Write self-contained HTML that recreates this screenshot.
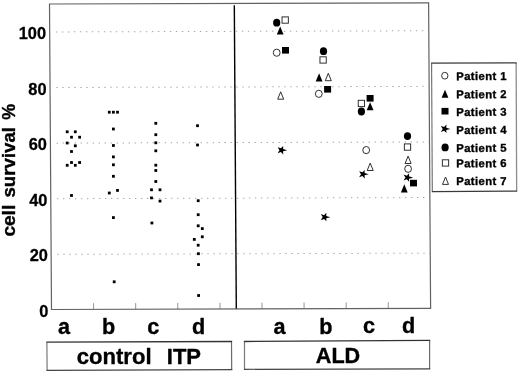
<!DOCTYPE html>
<html lang="en">
<head>
<meta charset="utf-8">
<title>cell survival</title>
<style>
html,body{margin:0;padding:0;background:#fff;}
body{width:520px;height:373px;overflow:hidden;}
svg{display:block;}
text{font-family:"Liberation Sans",sans-serif;font-weight:bold;fill:#000;}
.b{stroke:#000;stroke-width:0.35;stroke-linejoin:round;}
.b2{stroke:#000;stroke-width:0.2;stroke-linejoin:round;}
.b3{stroke:#000;stroke-width:0.28;stroke-linejoin:round;}
.fr{stroke:#626262;stroke-width:1.2;fill:none;}
.bx{stroke:#3c3c3c;stroke-width:1.1;fill:#fff;}
.gd{stroke:#a6a6a6;stroke-width:1;stroke-dasharray:1.4 4.6;fill:none;}
.tk{stroke:#8a8a8a;stroke-width:0.9;}
.dv{stroke:#000;stroke-width:1.4;}
.o{fill:#fff;stroke:#262626;stroke-width:0.95;}
.s{fill:#000;stroke:none;}
</style>
</head>
<body>
<svg width="520" height="373" viewBox="0 0 520 373">
<rect x="0" y="0" width="520" height="373" fill="#fff"/>
<g transform="matrix(1,-0.00317,0.00655,1,49.5,4)">
<line class="gd" x1="6.2" y1="250.35" x2="378.5" y2="250.35"/>
<line class="gd" x1="6.2" y1="194.75" x2="378.5" y2="194.75"/>
<line class="gd" x1="6.2" y1="139.15" x2="378.5" y2="139.15"/>
<line class="gd" x1="6.2" y1="83.55" x2="378.5" y2="83.55"/>
<line class="gd" x1="6.2" y1="27.95" x2="378.5" y2="27.95"/>
<line class="tk" x1="42.1" y1="299.3" x2="42.1" y2="305.5"/>
<line class="tk" x1="84.2" y1="299.3" x2="84.2" y2="305.5"/>
<line class="tk" x1="126.3" y1="299.3" x2="126.3" y2="305.5"/>
<line class="tk" x1="168.5" y1="299.3" x2="168.5" y2="305.5"/>
<line class="tk" x1="210.5" y1="299.3" x2="210.5" y2="305.5"/>
<line class="tk" x1="252.6" y1="299.3" x2="252.6" y2="305.5"/>
<line class="tk" x1="294.7" y1="299.3" x2="294.7" y2="305.5"/>
<line class="tk" x1="336.8" y1="299.3" x2="336.8" y2="305.5"/>
<line class="dv" x1="184.8" y1="1.8" x2="184.8" y2="305.5"/>
<rect class="fr" x="0" y="0" width="379.1" height="305.5"/>
</g>
<g class="s">
<rect x="65.8" y="130.4" width="2.8" height="2.8"/>
<rect x="73.9" y="130.4" width="2.8" height="2.8"/>
<rect x="70.1" y="135.8" width="2.8" height="2.8"/>
<rect x="78.2" y="135.8" width="2.8" height="2.8"/>
<rect x="65.8" y="141.6" width="2.8" height="2.8"/>
<rect x="73.9" y="144.4" width="2.8" height="2.8"/>
<rect x="70.1" y="150.1" width="2.8" height="2.8"/>
<rect x="70.1" y="161.1" width="2.8" height="2.8"/>
<rect x="78.2" y="161.1" width="2.8" height="2.8"/>
<rect x="65.8" y="163.9" width="2.8" height="2.8"/>
<rect x="73.9" y="163.9" width="2.8" height="2.8"/>
<rect x="70.1" y="194.1" width="2.8" height="2.8"/>
<rect x="107.9" y="110.8" width="2.8" height="2.8"/>
<rect x="112" y="110.8" width="2.8" height="2.8"/>
<rect x="116.1" y="110.8" width="2.8" height="2.8"/>
<rect x="112" y="127.6" width="2.8" height="2.8"/>
<rect x="112" y="144.1" width="2.8" height="2.8"/>
<rect x="112" y="155.5" width="2.8" height="2.8"/>
<rect x="112" y="163.4" width="2.8" height="2.8"/>
<rect x="112" y="174.9" width="2.8" height="2.8"/>
<rect x="116.1" y="189" width="2.8" height="2.8"/>
<rect x="107.9" y="191.6" width="2.8" height="2.8"/>
<rect x="112" y="216.2" width="2.8" height="2.8"/>
<rect x="112.8" y="280.4" width="2.8" height="2.8"/>
<rect x="154.4" y="121.9" width="2.8" height="2.8"/>
<rect x="154.4" y="133.3" width="2.8" height="2.8"/>
<rect x="154.4" y="141.4" width="2.8" height="2.8"/>
<rect x="154.4" y="149.4" width="2.8" height="2.8"/>
<rect x="154.4" y="163.8" width="2.8" height="2.8"/>
<rect x="154.4" y="169.1" width="2.8" height="2.8"/>
<rect x="154.4" y="180.1" width="2.8" height="2.8"/>
<rect x="150.1" y="188.4" width="2.8" height="2.8"/>
<rect x="158.6" y="188.4" width="2.8" height="2.8"/>
<rect x="150.1" y="196.5" width="2.8" height="2.8"/>
<rect x="158.6" y="199.7" width="2.8" height="2.8"/>
<rect x="150.5" y="221.6" width="2.8" height="2.8"/>
<rect x="196.1" y="124.3" width="2.8" height="2.8"/>
<rect x="196.1" y="143.6" width="2.8" height="2.8"/>
<rect x="196.8" y="199.3" width="2.8" height="2.8"/>
<rect x="196.8" y="213.3" width="2.8" height="2.8"/>
<rect x="196.8" y="224.4" width="2.8" height="2.8"/>
<rect x="200.9" y="227.2" width="2.8" height="2.8"/>
<rect x="200.9" y="235.4" width="2.8" height="2.8"/>
<rect x="192.9" y="238" width="2.8" height="2.8"/>
<rect x="196.8" y="243.8" width="2.8" height="2.8"/>
<rect x="197" y="252.3" width="2.8" height="2.8"/>
<rect x="197.1" y="263.2" width="2.8" height="2.8"/>
<rect x="197.2" y="294.1" width="2.8" height="2.8"/>
</g>
<ellipse class="s" cx="276.7" cy="22.7" rx="3.6" ry="3.9"/>
<rect class="o" x="282.05" y="16.9" width="6.3" height="6.3"/>
<polygon class="s" points="280.2,26.5 283.6,34.6 276.8,34.6"/>
<ellipse class="o" cx="276.7" cy="52.7" rx="3.4" ry="3.6"/>
<rect class="s" x="282" y="47" width="7" height="6.6"/>
<polygon class="o" points="280.7,91.8 283.7,99.2 277.7,99.2"/>
<polygon class="s" points="287.2,150.35 283.08,149.05 283.25,145.9 280.9,148.35 277.6,147.2 279.55,150.2 277.6,153.3 280.9,152.05 283.25,154.4 283.08,151.35"/>
<ellipse class="s" cx="323.5" cy="51.2" rx="3.6" ry="3.9"/>
<rect class="o" x="319.95" y="56.8" width="6.3" height="6.3"/>
<polygon class="s" points="319.1,73.3 322.5,81.4 315.7,81.4"/>
<polygon class="o" points="328.3,73.3 331.3,80.7 325.3,80.7"/>
<rect class="s" x="324.1" y="86" width="7" height="6.6"/>
<ellipse class="o" cx="318.8" cy="93.8" rx="3.4" ry="3.6"/>
<polygon class="s" points="330.35,217.25 326.23,215.95 326.4,212.8 324.05,215.25 320.75,214.1 322.7,217.1 320.75,220.2 324.05,218.95 326.4,221.3 326.23,218.25"/>
<rect class="s" x="366.6" y="95" width="7" height="6.6"/>
<rect class="o" x="358.25" y="100.3" width="6.3" height="6.3"/>
<polygon class="s" points="370.1,102.2 373.5,110.3 366.7,110.3"/>
<ellipse class="s" cx="361.4" cy="111.5" rx="3.6" ry="3.9"/>
<ellipse class="o" cx="366.2" cy="150.1" rx="3.4" ry="3.6"/>
<polygon class="o" points="370.2,163.1 373.2,170.5 367.2,170.5"/>
<polygon class="s" points="368.7,174.35 364.58,173.05 364.75,169.9 362.4,172.35 359.1,171.2 361.05,174.2 359.1,177.3 362.4,176.05 364.75,178.4 364.58,175.35"/>
<ellipse class="s" cx="407.5" cy="136.1" rx="3.6" ry="3.9"/>
<rect class="o" x="404.35" y="143.9" width="6.3" height="6.3"/>
<polygon class="o" points="408.1,156.1 411.1,163.5 405.1,163.5"/>
<ellipse class="o" cx="408.1" cy="168.8" rx="3.4" ry="3.6"/>
<polygon class="s" points="413.1,177.65 408.98,176.35 409.15,173.2 406.8,175.65 403.5,174.5 405.45,177.5 403.5,180.6 406.8,179.35 409.15,181.7 408.98,178.65"/>
<rect class="s" x="410" y="179.8" width="7" height="6.6"/>
<polygon class="s" points="404.3,184.3 407.7,192.4 400.9,192.4"/>
<polygon points="431.6,63.15 516.15,62.9 516.65,191.05 432.3,191.6" fill="#fff"/>
<line x1="431.6" y1="63.15" x2="432.3" y2="191.6" stroke="#6a6a6a" stroke-width="1.1"/>
<line x1="516.15" y1="62.9" x2="516.65" y2="191.05" stroke="#8c8c8c" stroke-width="1.3"/>
<line x1="431.1" y1="63.15" x2="516.7" y2="62.9" stroke="#3a3a3a" stroke-width="1.3"/>
<line x1="431.8" y1="191.6" x2="517.2" y2="191.05" stroke="#3a3a3a" stroke-width="1.3"/>
<ellipse class="o" cx="444.8" cy="75.7" rx="3.15" ry="3.4"/>
<text class="b" x="456.2" y="80.15" font-size="11.3" letter-spacing="0.42" transform="rotate(-0.25 456 80.15)">Patient 1</text>
<polygon class="s" points="445,89.7 448.4,97.8 441.6,97.8"/>
<text class="b" x="456.2" y="98.3" font-size="11.3" letter-spacing="0.42" transform="rotate(-0.25 456 98.3)">Patient 2</text>
<rect class="s" x="441.5" y="107.9" width="7" height="6.6"/>
<text class="b" x="456.2" y="116" font-size="11.3" letter-spacing="0.42" transform="rotate(-0.25 456 116)">Patient 3</text>
<polygon class="s" points="450.4,129.05 446.28,127.75 446.45,124.6 444.1,127.05 440.8,125.9 442.75,128.9 440.8,132 444.1,130.75 446.45,133.1 446.28,130.05"/>
<text class="b" x="456.2" y="134" font-size="11.3" letter-spacing="0.42" transform="rotate(-0.25 456 134)">Patient 4</text>
<ellipse class="s" cx="445.1" cy="147.4" rx="3.6" ry="3.9"/>
<text class="b" x="456.2" y="152" font-size="11.3" letter-spacing="0.42" transform="rotate(-0.25 456 152)">Patient 5</text>
<rect class="o" x="442.35" y="159.8" width="6.3" height="6.3"/>
<text class="b" x="456.2" y="167.3" font-size="11.3" letter-spacing="0.42" transform="rotate(-0.25 456 167.3)">Patient 6</text>
<polygon class="o" points="445.5,177 448.5,184.4 442.5,184.4"/>
<text class="b" x="456.2" y="185.1" font-size="11.3" letter-spacing="0.42" transform="rotate(-0.25 456 185.1)">Patient 7</text>
<text class="b3" x="46.05" y="38.7" font-size="16.4" text-anchor="end">100</text>
<text class="b3" x="46.51" y="94.6" font-size="16.4" text-anchor="end">80</text>
<text class="b3" x="46.98" y="150.2" font-size="16.4" text-anchor="end">60</text>
<text class="b3" x="47.44" y="205.7" font-size="16.4" text-anchor="end">40</text>
<text class="b3" x="47.9" y="261.2" font-size="16.4" text-anchor="end">20</text>
<text class="b3" x="48.36" y="316.9" font-size="16.4" text-anchor="end">0</text>
<text class="b" x="0" y="0" font-size="17.6" textLength="31.8" lengthAdjust="spacingAndGlyphs" transform="translate(15.45 236.6) rotate(-90)">cell</text>
<text class="b" x="0" y="0" font-size="17.6" textLength="70.5" lengthAdjust="spacingAndGlyphs" transform="translate(15.45 197.5) rotate(-90)">survival</text>
<text class="b" x="0" y="0" font-size="17.6" textLength="15.9" lengthAdjust="spacingAndGlyphs" transform="translate(15.45 119.7) rotate(-90)">%</text>
<text class="b" x="64" y="334.3" font-size="21.6" text-anchor="middle">a</text>
<text class="b" x="108.5" y="334.3" font-size="21.6" text-anchor="middle">b</text>
<text class="b" x="153.25" y="334.2" font-size="21.6" text-anchor="middle">c</text>
<text class="b" x="198.6" y="334.2" font-size="21.6" text-anchor="middle">d</text>
<text class="b" x="279.4" y="333.8" font-size="21.6" text-anchor="middle">a</text>
<text class="b" x="325.9" y="333.8" font-size="21.6" text-anchor="middle">b</text>
<text class="b" x="369.1" y="333.2" font-size="21.6" text-anchor="middle">c</text>
<text class="b" x="408.5" y="333.2" font-size="21.6" text-anchor="middle">d</text>
<polygon points="46.9,342.15 231.5,341.5 231.7,369.6 47.1,370.4" fill="#fff"/>
<line x1="46.9" y1="342.15" x2="47.1" y2="370.4" stroke="#7a7a7a" stroke-width="1.2"/>
<line x1="231.5" y1="341.5" x2="231.7" y2="369.6" stroke="#6a6a6a" stroke-width="1.2"/>
<line x1="46.3" y1="342.15" x2="232.1" y2="341.5" stroke="#333" stroke-width="1.3"/>
<line x1="46.5" y1="370.4" x2="232.3" y2="369.6" stroke="#444" stroke-width="1.2"/>
<polygon points="244.5,341.5 429.6,340.3 429.6,368.9 244.5,369.3" fill="#fff"/>
<line x1="244.5" y1="341.5" x2="244.5" y2="369.3" stroke="#7a7a7a" stroke-width="1.2"/>
<line x1="429.6" y1="340.3" x2="429.6" y2="368.9" stroke="#6a6a6a" stroke-width="1.2"/>
<line x1="243.9" y1="341.5" x2="430.2" y2="340.3" stroke="#333" stroke-width="1.3"/>
<line x1="243.9" y1="369.3" x2="430.2" y2="368.9" stroke="#444" stroke-width="1.2"/>
<text class="b" x="76.7" y="363.6" font-size="22.1">control</text>
<text class="b" x="166.8" y="363.5" font-size="22">ITP</text>
<text class="b" x="315.8" y="362.8" font-size="21.6">ALD</text>
</svg>
</body>
</html>
